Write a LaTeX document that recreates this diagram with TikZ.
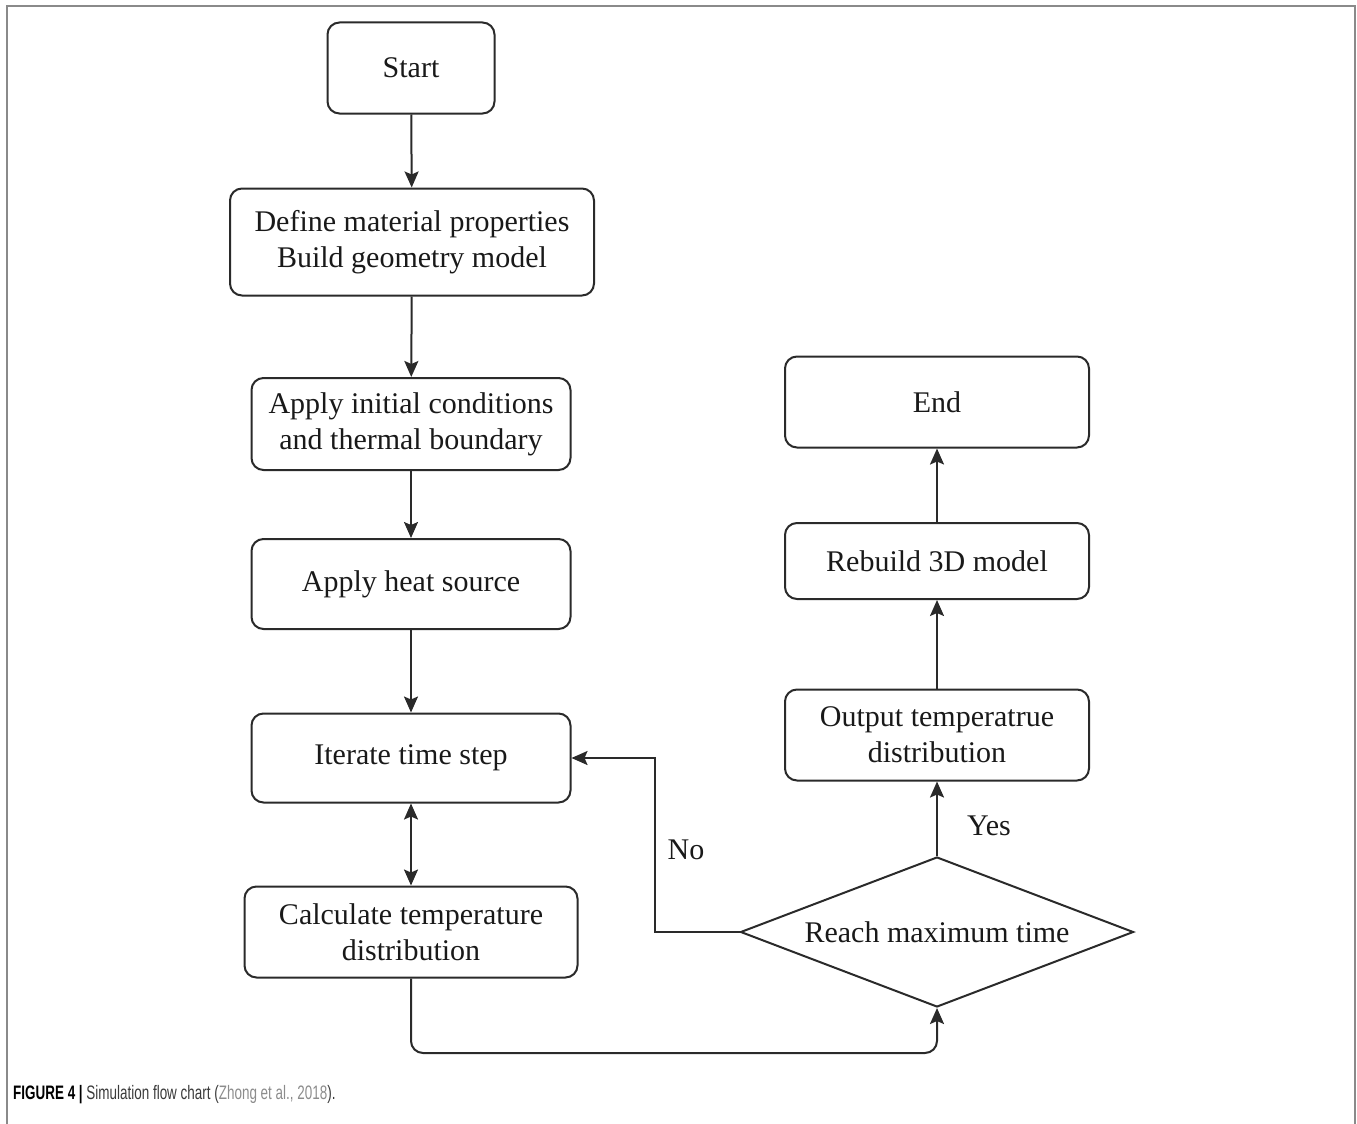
\documentclass[tikz,border=0pt]{standalone}
\usepackage{fontspec}
\setmainfont{Liberation Serif}
\newfontfamily\capfont[FakeStretch=0.69]{Liberation Sans}
\usetikzlibrary{shapes.geometric,arrows.meta}
\definecolor{linec}{HTML}{2A2A2A}
\definecolor{framec}{HTML}{8A8A8A}
\definecolor{capdark}{HTML}{3A3A3A}
\definecolor{caplink}{HTML}{8C8C8C}
\tikzset{tipx/.tip={Stealth[length=16pt,width=14pt,inset=3pt]}}
\begin{document}
\begin{tikzpicture}[x=1pt,y=-1pt,
  box/.style={draw=linec, line width=2pt, rounded corners=12pt, inner sep=0pt,
    align=center, font=\fontsize{30}{36}\selectfont, text=black!90},
  decision/.style={draw=linec, line width=2pt, diamond, inner sep=0pt, aspect=2.62,
    minimum width=393pt, minimum height=150pt, font=\fontsize{30}{36}\selectfont, text=black!90},
  conn/.style={draw=linec, line width=2pt, -tipx},
  lbl/.style={font=\fontsize{30}{36}\selectfont, text=black!90}]
\useasboundingbox (0,0) rectangle (1357,1124);
% frame
\draw[framec, line width=2pt] (7,1124) -- (7,6) -- (1355,6) -- (1355,1124);

\node[box, minimum width=167pt, minimum height=91pt] (start) at (411,68) {Start};
\node[box, minimum width=364pt, minimum height=107pt] (def) at (412,242) {Define material properties\\Build geometry model};
\node[box, minimum width=319pt, minimum height=92pt] (init) at (411,424) {Apply initial conditions\\and thermal boundary};
\node[box, minimum width=319pt, minimum height=90pt] (heat) at (411,584) {Apply heat source};
\node[box, minimum width=319pt, minimum height=89pt] (iter) at (411,758) {Iterate time step};
\node[box, minimum width=333pt, minimum height=91pt] (calc) at (411,932) {Calculate temperature\\distribution};
\node[box, minimum width=304pt, minimum height=91pt] (end) at (937,402) {End};
\node[box, minimum width=304pt, minimum height=76pt] (rebuild) at (937,561) {Rebuild 3D model};
\node[box, minimum width=304pt, minimum height=91pt] (out) at (937,735) {Output temperatrue\\distribution};
\node[decision] (dia) at (937,932) {Reach maximum time};

\coordinate (nox) at (655,0);
\coordinate (loopy) at (0,1053);

\draw[conn] (start) -- (def);
\draw[conn] (def) -- (init);
\draw[conn] (init) -- (heat);
\draw[conn] (heat) -- (iter);
\draw[conn, tipx-tipx] (iter) -- (calc);
\draw[conn, rounded corners=12pt] (calc.south) -- (calc.south |- loopy) -- (dia.south |- loopy) -- (dia.south);
\draw[conn] (dia.west) -- (dia.west -| nox) -- (nox |- iter.east) -- (iter.east);
\draw[conn] (dia.north) -- (out.south);
\draw[conn] (out.north) -- (rebuild.south);
\draw[conn] (rebuild.north) -- (end.south);

\node[lbl] (no) at (686,850) {No};
\node[lbl] (yes) at (989,826) {Yes};

\node[anchor=base west, inner sep=0pt, font=\capfont\fontsize{19.5}{23}\selectfont] (cap) at (13,1099)
  {\textcolor{black}{\bfseries FIGURE 4 |} \textcolor{capdark}{Simulation flow chart (}\textcolor{caplink}{Zhong et al., 2018}\textcolor{capdark}{).}};
\end{tikzpicture}
\end{document}
